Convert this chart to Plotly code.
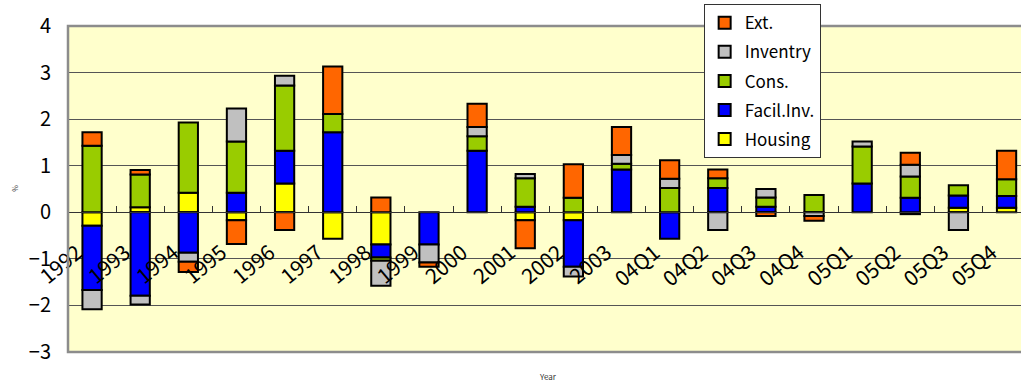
import plotly.graph_objects as go

categories = ["1992", "1993", "1994", "1995", "1996", "1997", "1998", "1999", "2000",
              "2001", "2002", "2003", "04Q1", "04Q2", "04Q3", "04Q4",
              "05Q1", "05Q2", "05Q3", "05Q4"]

housing = [-0.29, 0.11, 0.42, -0.17, 0.62, -0.57, -0.69, None, None, -0.17, -0.17, None,
           None, None, None, None, None, -0.04, 0.10, 0.10]
facil_inv = [-1.38, -1.79, -0.87, 0.42, 0.70, 1.72, -0.28, -0.69, 1.32, 0.12, -1.00, 0.92,
             -0.57, 0.52, 0.12, None, 0.62, 0.31, 0.26, 0.25]
cons = [1.43, 0.70, 1.51, 1.10, 1.40, 0.39, -0.07, None, 0.31, 0.61, 0.31, 0.12,
        0.52, 0.21, 0.20, 0.37, 0.79, 0.46, 0.22, 0.36]
inventry = [-0.41, -0.19, -0.19, 0.71, 0.21, None, -0.54, -0.39, 0.20, 0.09, -0.21, 0.19,
            0.20, -0.38, 0.18, -0.08, 0.11, 0.25, -0.38, None]
ext = [0.29, 0.10, -0.22, -0.51, -0.38, 1.02, 0.32, -0.09, 0.50, -0.60, 0.72, 0.60,
       0.40, 0.19, -0.08, -0.10, None, 0.26, None, 0.61]

# stacking order from zero outward; legend rank puts Ext. on top
series = [
    ("Housing", housing, "#FFFF00", 5),
    ("Facil.Inv.", facil_inv, "#0000FF", 4),
    ("Cons.", cons, "#99CC00", 3),
    ("Inventry", inventry, "#C0C0C0", 2),
    ("Ext.", ext, "#FF6600", 1),
]

FONT = "Noto Sans CJK JP"

fig = go.Figure()
for name, vals, color, rank in series:
    fig.add_trace(go.Bar(
        x=categories, y=vals, name=name, legendgroup=name, legendrank=rank,
        marker=dict(color=color, line=dict(color="#000000", width=2)),
        width=0.4,
    ))

fig.update_layout(
    width=1021, height=381,
    margin=dict(l=68, r=0, t=26, b=29),
    barmode="relative",
    paper_bgcolor="#FFFFFF",
    plot_bgcolor="#FFFFCC",
    font=dict(family=FONT, color="#000000"),
    showlegend=True,
    legend=dict(
        x=0.667, y=1.067, xanchor="left", yanchor="top",
        bgcolor="#FFFFFF", bordercolor="#333333", borderwidth=1,
        font=dict(family=FONT, size=17, color="#000000"),
        traceorder="grouped", tracegroupgap=4,
        itemwidth=30,
    ),
    xaxis=dict(
        type="category",
        range=[-0.5, 19.3],
        anchor="free", position=3 / 7,
        showline=True, linecolor="#333333", linewidth=1,
        ticks="inside", ticklen=6, tickcolor="#333333", tickson="boundaries",
        tickangle=-40, ticklabelstandoff=19, ticklabelshift=-15,
        tickfont=dict(family=FONT, size=21, color="#000000"),
        showgrid=False, zeroline=False, automargin=False,
    ),
    yaxis=dict(
        range=[-3, 4], dtick=1, tick0=0,
        showgrid=True, gridcolor="#555555", gridwidth=1,
        zeroline=False,
        showline=False, ticks="", ticklabelstandoff=16,
        tickfont=dict(family=FONT, size=20, color="#000000"),
        automargin=False,
    ),
    shapes=[dict(type="rect", xref="paper", yref="paper", x0=0, x1=1.01, y0=0, y1=1,
                 line=dict(color="#8C8C8C", width=2.5), layer="above")],
    annotations=[
        dict(text="Year", xref="paper", yref="paper", x=(548 - 68) / 953, y=-0.075,
             showarrow=False, xanchor="center", yanchor="middle",
             font=dict(family=FONT, size=8, color="#333333")),
        dict(text="%", xref="paper", yref="paper", x=-0.056, y=(352 - 188) / 326,
             showarrow=False, textangle=-90, xanchor="center", yanchor="middle",
             font=dict(family=FONT, size=7, color="#333333")),
    ],
)

fig.write_html("out.html")
